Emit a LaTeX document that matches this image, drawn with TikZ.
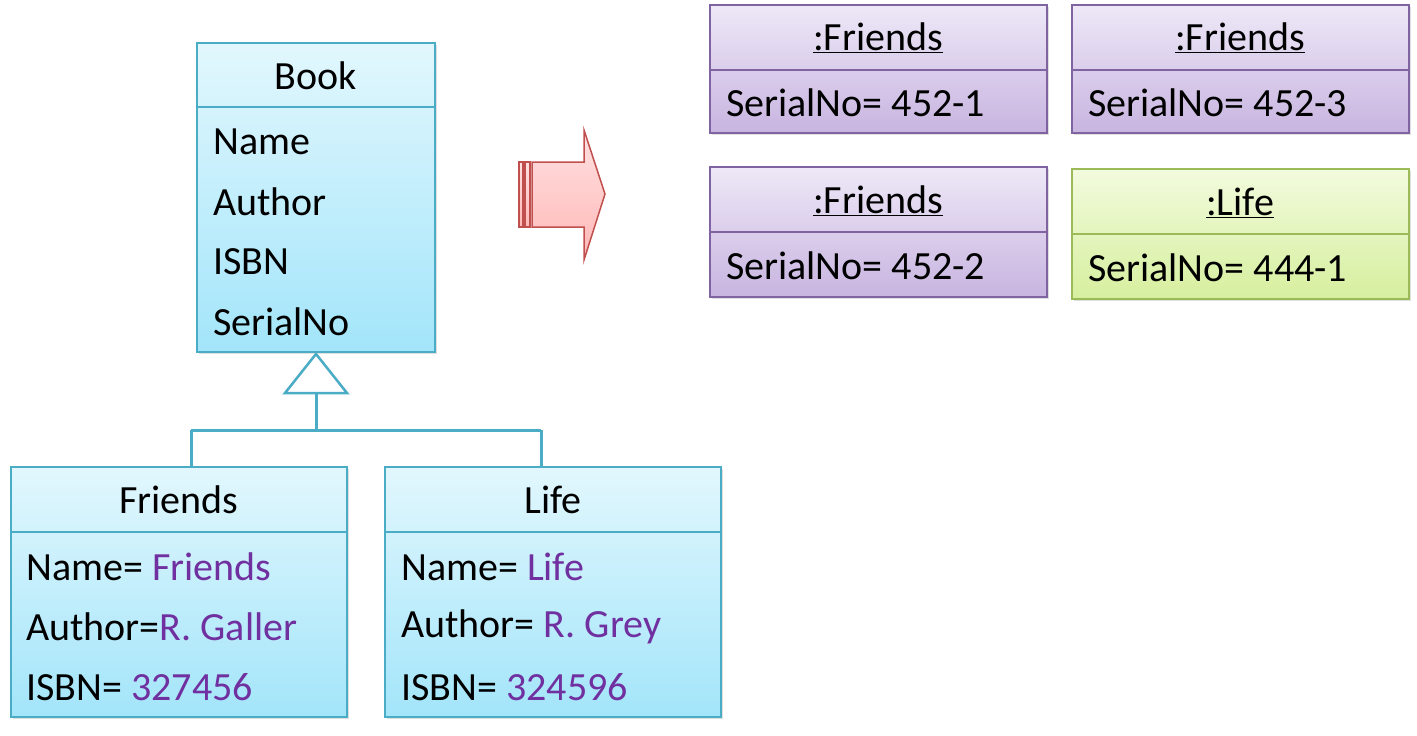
\documentclass[tikz,border=0pt]{standalone}
\usepackage{fontspec}
\setmainfont{Carlito}
\usetikzlibrary{shadows}
\definecolor{cb}{HTML}{4BACC6}
\definecolor{ct}{HTML}{E2F7FD}
\definecolor{cbot}{HTML}{A3E5FA}
\definecolor{pb}{HTML}{8064A2}
\definecolor{pt}{HTML}{EEE8F7}
\definecolor{pbot}{HTML}{C8B4E0}
\definecolor{gb}{HTML}{9BBB59}
\definecolor{gt}{HTML}{F2FBDD}
\definecolor{gbot}{HTML}{D6EF9E}
\definecolor{val}{HTML}{7030A0}
\definecolor{ab}{HTML}{C0504D}
\begin{document}
\begin{tikzpicture}[x=1pt,y=-1pt,
 cls/.style={draw=cb,line width=1.2pt,top color=ct,bottom color=cbot,drop shadow={opacity=0.25,shadow xshift=2pt,shadow yshift=-2pt}},
 obj/.style={draw=pb,line width=1.2pt,top color=pt,bottom color=pbot,drop shadow={opacity=0.25,shadow xshift=2pt,shadow yshift=-2pt}},
 objg/.style={draw=gb,line width=1.2pt,top color=gt,bottom color=gbot,drop shadow={opacity=0.25,shadow xshift=2pt,shadow yshift=-2pt}},
 arr/.style={draw=ab,line width=1.5pt,top color=red!12,bottom color=red!28},
 t/.style={font=\fontsize{40}{44}\selectfont,inner sep=0pt},
 a/.style={t,anchor=west},
 v/.style={text=val}]
\useasboundingbox (0,0) rectangle (1417,736);
% Book
\path[cls] (197,43) rectangle (435,352);
\draw[cb,line width=1.2pt] (197,107) -- (435,107);
\node[t] (book) at (316,76) {Book};
\node[a] (bn) at (213,142) {Name};
\node[a] (ba) at (213,202) {Author};
\node[a] (bi) at (213,262) {ISBN};
\node[a] (bs) at (213,322) {SerialNo};
% Friends
\path[cls] (11,467) rectangle (347,717);
\draw[cb,line width=1.2pt] (11,532) -- (347,532);
\node[t] (fr) at (179,500) {Friends};
\node[a] (f1) at (26,567) {Name= \textcolor{val}{Friends}};
\node[a] (f2) at (26,627) {Author=\textcolor{val}{R. Galler}};
\node[a] (f3) at (26,687) {ISBN= \textcolor{val}{327456}};
% Life
\path[cls] (385,467) rectangle (721,717);
\draw[cb,line width=1.2pt] (385,532) -- (721,532);
\node[t] (li) at (553,500) {Life};
\node[a] (l1) at (401,567) {Name= \textcolor{val}{Life}};
\node[a] (l2) at (401,627) {Author= \textcolor{val}{R. Grey}};
\node[a] (l3) at (401,687) {ISBN= \textcolor{val}{324596}};
% generalization
\coordinate (apex) at (316,354);
\coordinate (tb) at (316,393);
\coordinate (j) at (316,430);
\draw[cb,line width=3pt] (tb) -- (j) (191,430) -- (541,430) (191,430) -- (191,467) (541,430) -- (541,467);
\draw[cb,line width=2.5pt,fill=white] (apex) -- (347,393) -- (285,393) -- cycle;
% arrow
\path[arr] (519,162) rectangle (523,227);
\path[arr] (525,162) rectangle (530,227);
\path[arr] (532,162) -- (584,162) -- (584,130) -- (605,194) -- (584,260) -- (584,227) -- (532,227) -- cycle;
% objects
\path[obj] (710,5) rectangle (1047,133);
\draw[pb,line width=1.2pt] (710,70) -- (1047,70);
\node[t] (o1) at (878,38) {\underline{:Friends}};
\node[a] (o1a) at (726,103) {SerialNo= 452-1};
\path[obj] (1072,5) rectangle (1409,133);
\draw[pb,line width=1.2pt] (1072,70) -- (1409,70);
\node[t] (o3) at (1240,38) {\underline{:Friends}};
\node[a] (o3a) at (1088,103) {SerialNo= 452-3};
\path[obj] (710,167) rectangle (1047,297);
\draw[pb,line width=1.2pt] (710,232) -- (1047,232);
\node[t] (o2) at (878,201) {\underline{:Friends}};
\node[a] (o2a) at (726,266) {SerialNo= 452-2};
\path[objg] (1072,169) rectangle (1409,299);
\draw[gb,line width=1.2pt] (1072,234) -- (1409,234);
\node[t] (o4) at (1240,203) {\underline{:Life}};
\node[a] (o4a) at (1088,268) {SerialNo= 444-1};
\end{tikzpicture}
\end{document}
